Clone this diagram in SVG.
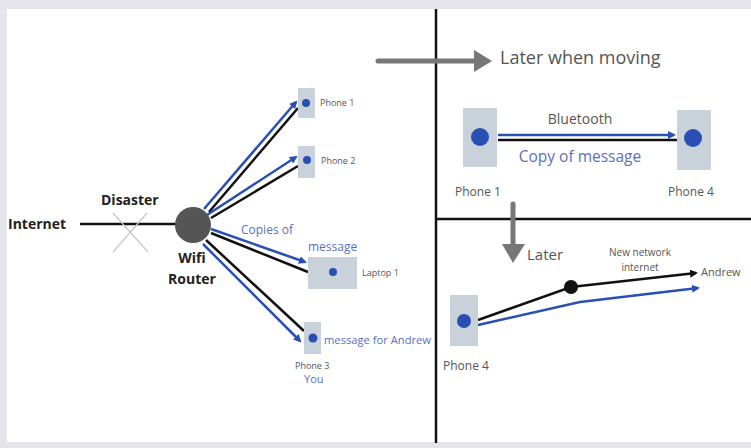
<svg xmlns="http://www.w3.org/2000/svg" width="751" height="448" viewBox="0 0 751 448">
<style>
.box{fill:#c9d1db}
.dot{fill:#2a4fb3}
.bl{stroke:#2a4fb3;stroke-width:2.5;fill:none}
.bk{stroke:#111;stroke-width:2.5;fill:none}
.sm{font-family:"Open Sans",sans-serif;font-size:9px;fill:#555}
.md{font-family:"Open Sans",sans-serif;font-size:12px;fill:#555}
.bt{font-family:"Open Sans",sans-serif;font-size:12px;fill:#5a6fc4}
.bold{font-family:"Open Sans",sans-serif;font-weight:bold;font-size:14px;fill:#222}
</style>
<defs>
<marker id="ab" markerWidth="8" markerHeight="8" refX="6" refY="4" orient="auto" markerUnits="userSpaceOnUse"><path d="M0,0 L8,4 L0,8 z" fill="#2a4fb3"/></marker>
<marker id="ak" markerWidth="8" markerHeight="8" refX="6" refY="4" orient="auto" markerUnits="userSpaceOnUse"><path d="M0,0 L8,4 L0,8 z" fill="#111"/></marker>
</defs>
<rect x="0" y="0" width="751" height="448" fill="#e4e4ea"/>
<rect x="7" y="9" width="744" height="433" fill="#fff"/>
<g id="dividers" stroke="#111" stroke-width="2.5">
<line x1="436" y1="9" x2="436" y2="443"/>
<line x1="436" y1="219" x2="751" y2="219"/>
</g>
<g id="connectors">
<line x1="80" y1="224" x2="180" y2="224" stroke="#111" stroke-width="2.5"/>
<path d="M113,213 L148,252 M147,213 L113,252" stroke="#c8c8c8" stroke-width="1.2"/>
<line class="bk" x1="209" y1="212" x2="298" y2="108"/>
<line class="bl" x1="204" y1="209" x2="296" y2="102" marker-end="url(#ab)"/>
<line class="bk" x1="211" y1="218" x2="298" y2="166"/>
<line class="bl" x1="207" y1="215" x2="296" y2="157" marker-end="url(#ab)"/>
<line class="bk" x1="211" y1="233" x2="308" y2="272"/>
<line class="bl" x1="211" y1="229" x2="305" y2="262" marker-end="url(#ab)"/>
<line class="bk" x1="206" y1="240" x2="304" y2="331"/>
<line class="bl" x1="203" y1="244" x2="300" y2="341" marker-end="url(#ab)"/>
<line class="bl" x1="498" y1="135" x2="674" y2="135" marker-end="url(#ab)"/>
<line class="bk" x1="498" y1="140" x2="677" y2="140"/>
<polyline class="bk" points="478,320 571,287 696,273" marker-end="url(#ak)"/>
<polyline class="bl" points="478,325 580,302 698,288" marker-end="url(#ab)"/>
<line x1="378" y1="61" x2="476" y2="61" stroke="#777" stroke-width="5" stroke-linecap="round"/>
<path d="M474,50 L492,61 L474,72 z" fill="#777"/>
<line x1="513" y1="204" x2="513" y2="246" stroke="#777" stroke-width="5" stroke-linecap="round"/>
<path d="M502,244 L513,263 L525,244 z" fill="#777"/>
</g>
<g id="internet"><text class="bold" x="8" y="229">Internet</text></g>
<g id="disaster"><text class="bold" x="101" y="205">Disaster</text></g>
<g id="router">
<circle cx="193" cy="225" r="18" fill="#555"/>
<text class="bold" x="192" y="263" text-anchor="middle">Wifi</text>
<text class="bold" x="192" y="284" text-anchor="middle">Router</text>
</g>
<g id="copies">
<text class="bt" x="241" y="234">Copies of</text>
<text class="bt" x="308" y="251">message</text>
</g>
<g id="phone1">
<rect class="box" x="298" y="88" width="17" height="30"/>
<circle class="dot" cx="306" cy="103" r="4"/>
<text class="sm" x="320" y="106">Phone 1</text>
</g>
<g id="phone2">
<rect class="box" x="298" y="146" width="17" height="32"/>
<circle class="dot" cx="307" cy="160" r="4"/>
<text class="sm" x="321" y="164">Phone 2</text>
</g>
<g id="laptop1">
<rect class="box" x="308" y="257" width="49" height="32"/>
<circle class="dot" cx="333" cy="272" r="4"/>
<text class="sm" x="362" y="276">Laptop 1</text>
</g>
<g id="phone3">
<rect class="box" x="304" y="322" width="17" height="32"/>
<circle class="dot" cx="313" cy="338" r="4.5"/>
<text class="bt" x="324" y="344" style="font-size:11.5px" textLength="107" lengthAdjust="spacingAndGlyphs">message for Andrew</text>
<text class="sm" x="295" y="369">Phone 3</text>
<text class="bt" x="304" y="383" style="font-size:11px">You</text>
</g>
<g id="later-moving"><text x="500" y="64" style="font-family:'Open Sans',sans-serif;font-size:18px;fill:#555">Later when moving</text></g>
<g id="bt-phone1">
<rect class="box" x="463" y="108" width="34" height="59"/>
<circle class="dot" cx="480" cy="137" r="9"/>
<text class="md" x="455" y="196">Phone 1</text>
</g>
<g id="bt-phone4">
<rect class="box" x="677" y="110" width="34" height="60"/>
<circle class="dot" cx="693" cy="138" r="9"/>
<text class="md" x="668" y="196">Phone 4</text>
</g>
<g id="bt-labels">
<text x="580" y="124" text-anchor="middle" style="font-family:'Open Sans',sans-serif;font-size:14px;fill:#555">Bluetooth</text>
<text x="580" y="162" text-anchor="middle" style="font-family:'Open Sans',sans-serif;font-size:15.5px;fill:#5a6fc4">Copy of message</text>
</g>
<g id="later"><text x="527" y="260" style="font-family:'Open Sans',sans-serif;font-size:15px;fill:#555">Later</text></g>
<g id="net-phone4">
<rect class="box" x="450" y="295" width="28" height="51"/>
<circle class="dot" cx="464" cy="321" r="7"/>
<text class="md" x="443" y="370">Phone 4</text>
</g>
<g id="network-node"><circle cx="571" cy="287" r="7" fill="#111"/></g>
<g id="net-labels">
<text x="640" y="256" text-anchor="middle" style="font-family:'Open Sans',sans-serif;font-size:10px;fill:#555">New network</text>
<text x="640" y="271" text-anchor="middle" style="font-family:'Open Sans',sans-serif;font-size:10px;fill:#555">internet</text>
</g>
<g id="andrew"><text x="701" y="276" style="font-family:'Open Sans',sans-serif;font-size:11px;fill:#555">Andrew</text></g>
</svg>
